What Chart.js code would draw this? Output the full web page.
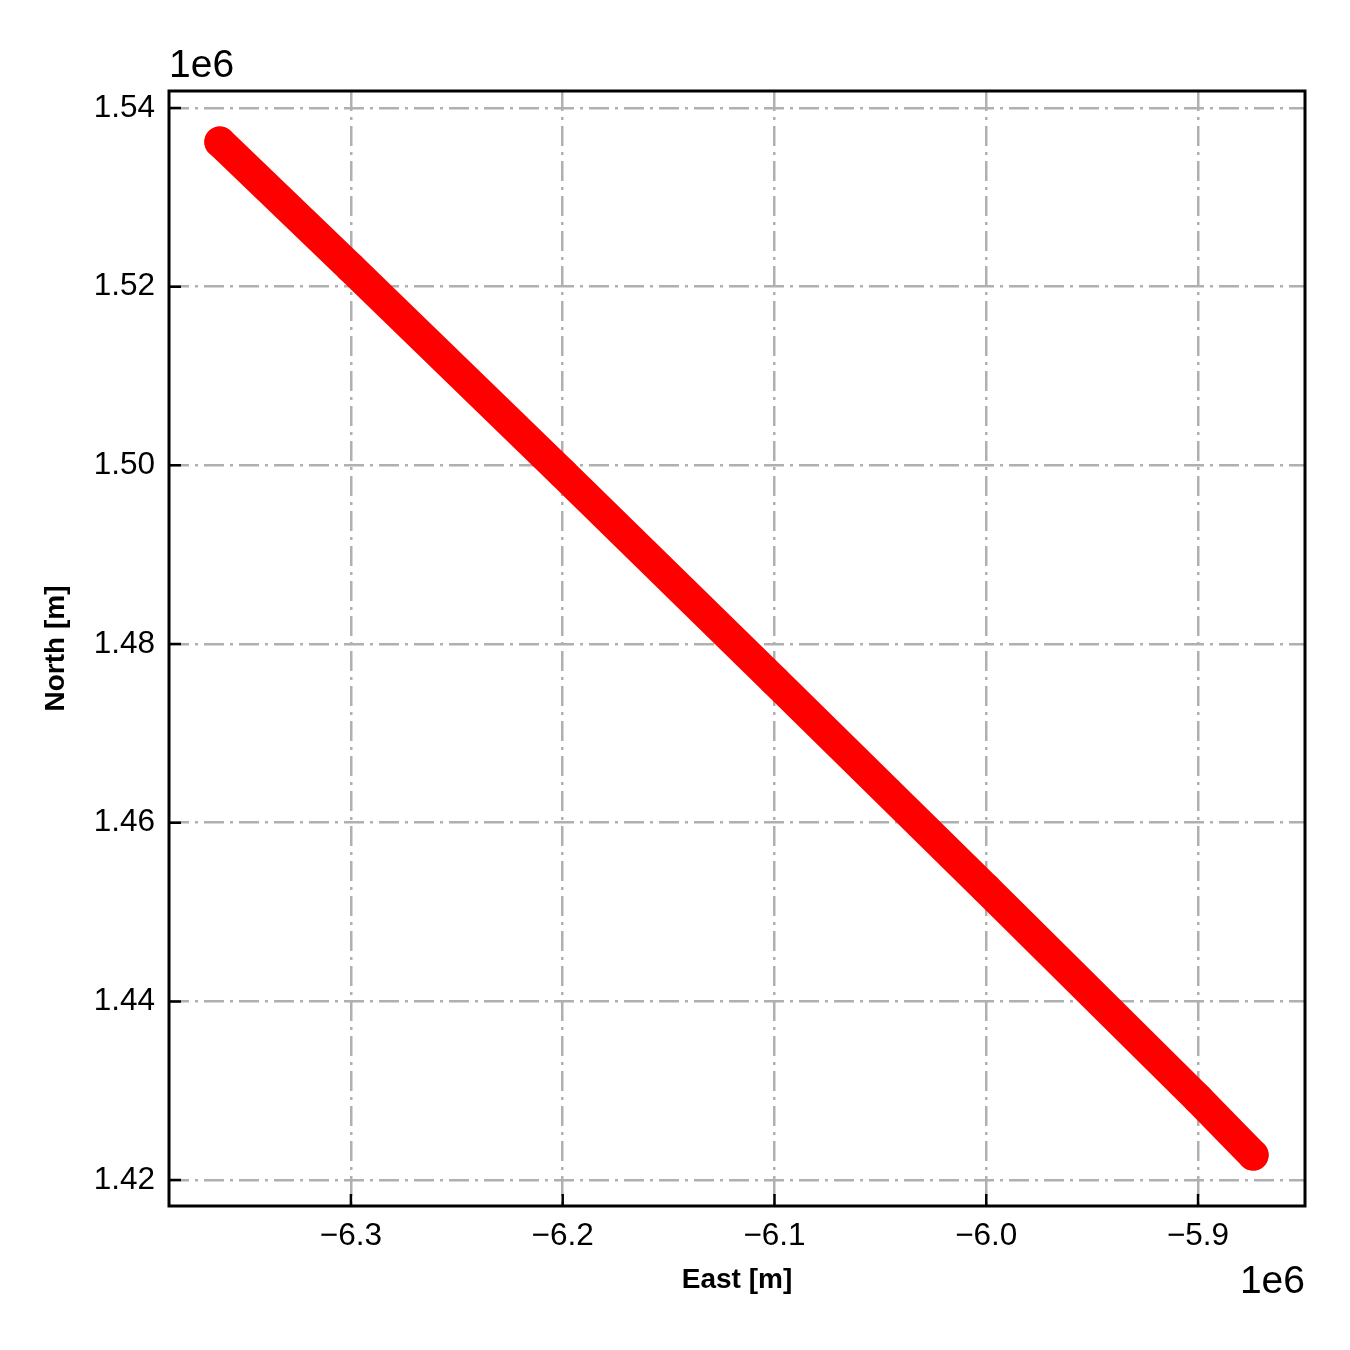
<!DOCTYPE html>
<html>
<head>
<meta charset="utf-8">
<script src="https://cdn.jsdelivr.net/npm/chart.js@4"></script>
<style>
  html, body { margin: 0; padding: 0; background: #fff; }
  #wrap { width: 1350px; height: 1350px; }
</style>
</head>
<body>
<div id="wrap"><canvas id="track" width="1350" height="1350"></canvas></div>
<script>
// track, in metres
const eastM = [-6361900, -6300000, -6200000, -6100000, -6000000, -5900000, -5874000];
const northM = [1536200, 1522100, 1499100, 1475900, 1452600, 1429100, 1422800];

// tick positions (in units of 1e6) and their labels
const xTicks = [-6.3, -6.2, -6.1, -6.0, -5.9];
const xTickLabels = ['\u22126.3', '\u22126.2', '\u22126.1', '\u22126.0', '\u22125.9'];
const yTicks = [1.42, 1.44, 1.46, 1.48, 1.50, 1.52, 1.54];
const yTickLabels = ['1.42', '1.44', '1.46', '1.48', '1.50', '1.52', '1.54'];

const FONT = "'Liberation Sans', Arial, sans-serif";

// matplotlib style frame, inward ticks and offset text
const framePlugin = {
  id: 'frame',
  afterDraw(chart) {
    const { ctx, chartArea: a, scales } = chart;
    ctx.save();
    ctx.strokeStyle = '#000';
    ctx.lineWidth = 2.5;
    ctx.beginPath();
    xTicks.forEach(v => {
      const px = scales.x.getPixelForValue(v * 1e6);
      ctx.moveTo(px, a.bottom);
      ctx.lineTo(px, a.bottom - 12);
    });
    yTicks.forEach(v => {
      const py = scales.y.getPixelForValue(v * 1e6);
      ctx.moveTo(a.left, py);
      ctx.lineTo(a.left + 12, py);
    });
    ctx.stroke();
    ctx.lineWidth = 3;
    ctx.strokeRect(a.left, a.top, a.right - a.left, a.bottom - a.top);

    ctx.fillStyle = '#000';
    ctx.font = '39px ' + FONT;
    ctx.textBaseline = 'alphabetic';
    ctx.textAlign = 'left';
    ctx.fillText('1e6', a.left, a.top - 14);
    ctx.textAlign = 'right';
    ctx.fillText('1e6', a.right, a.bottom + 87);
    ctx.restore();
  }
};

new Chart(document.getElementById('track'), {
  type: 'scatter',
  data: {
    datasets: [{
      data: eastM.map((e, i) => ({ x: e, y: northM[i] })),
      showLine: true,
      borderColor: '#ff0000',
      borderWidth: 31,
      borderCapStyle: 'round',
      borderJoinStyle: 'round',
      pointRadius: 15.5,
      pointBorderWidth: 0,
      pointBackgroundColor: '#ff0000'
    }]
  },
  options: {
    responsive: false,
    animation: false,
    events: [],
    devicePixelRatio: 1,
    layout: { padding: { top: 91, right: 45, left: 0, bottom: 0 } },
    plugins: {
      legend: { display: false },
      tooltip: { enabled: false }
    },
    scales: {
      x: {
        type: 'linear',
        position: 'bottom',
        min: -6385900,
        max: -5849500,
        afterBuildTicks: s => { s.ticks = xTicks.map(v => ({ value: v * 1e6 })); },
        afterFit: s => { s.height = 144; },
        ticks: {
          padding: 11,
          color: '#000',
          font: { family: FONT, size: 31.5 },
          maxRotation: 0,
          autoSkip: false,
          callback: (val, i) => xTickLabels[i]
        },
        grid: { color: '#b0b0b0', lineWidth: 2.5, drawTicks: false, tickLength: 0 },
        border: { display: false, dash: [20, 6, 3, 6] },
        title: {
          display: true,
          text: 'East [m]',
          color: '#000',
          font: { family: FONT, size: 28, weight: 'bold' },
          padding: { top: 0, bottom: 53 }
        }
      },
      y: {
        type: 'linear',
        min: 1417100,
        max: 1541900,
        afterBuildTicks: s => { s.ticks = yTicks.map(v => ({ value: v * 1e6 })); },
        afterFit: s => { s.width = 169; },
        ticks: {
          padding: 14,
          color: '#000',
          font: { family: FONT, size: 31.5 },
          autoSkip: false,
          callback: (val, i) => yTickLabels[i]
        },
        grid: { color: '#b0b0b0', lineWidth: 2.5, drawTicks: false, tickLength: 0 },
        border: { display: false, dash: [20, 6, 3, 6] },
        title: {
          display: true,
          text: 'North [m]',
          color: '#000',
          font: { family: FONT, size: 28, weight: 'bold' },
          padding: { top: 39, bottom: 0 }
        }
      }
    }
  },
  plugins: [framePlugin]
});
</script>
</body>
</html>
